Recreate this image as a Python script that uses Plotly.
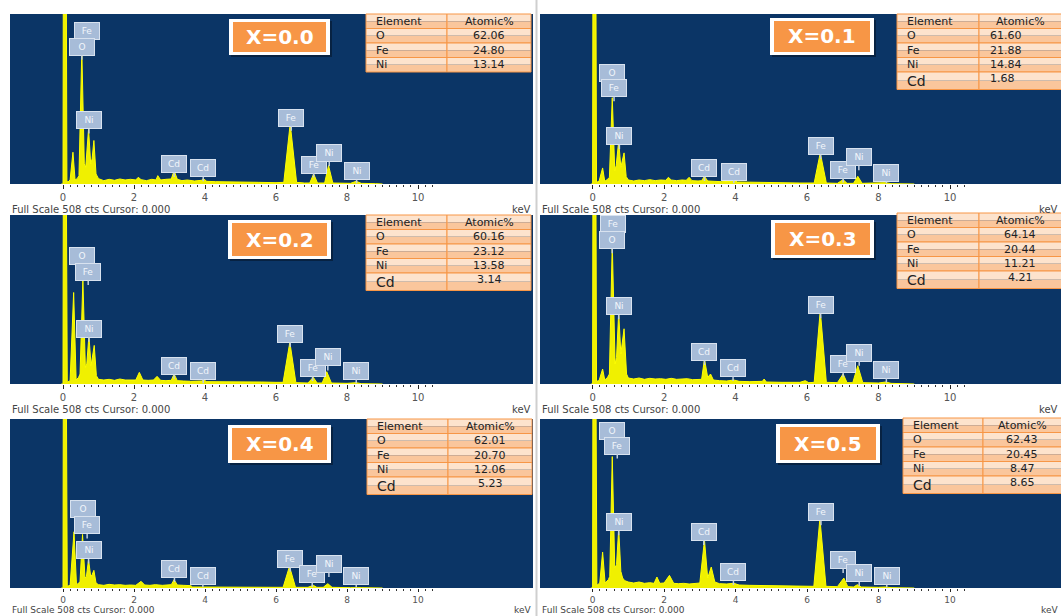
import plotly.graph_objects as go

W, H = 1061, 616

# ---------------------------------------------------------------------------
# Data: EDX spectra (energy keV, counts) and atomic composition per sample
# ---------------------------------------------------------------------------
SAMPLES = ["X=0.0", "X=0.1", "X=0.2", "X=0.3", "X=0.4", "X=0.5"]

SPEC_X00 = [(-0.05, 0), (0.0, 0), (0.01, 700), (0.09, 700), (0.11, 8), (0.14, 6), (0.2, 12), (0.28, 95),
            (0.34, 12), (0.4, 16), (0.45, 25), (0.53, 400), (0.6, 60), (0.64, 50), (0.72, 165), (0.78, 60),
            (0.82, 75), (0.87, 130), (0.93, 30), (1.0, 16), (1.15, 10), (1.3, 14), (1.45, 11), (1.6, 15),
            (1.75, 12), (1.9, 14), (2.05, 12), (2.12, 20), (2.2, 13), (2.35, 10), (2.5, 14), (2.62, 12),
            (2.67, 25), (2.75, 12), (2.9, 14), (3.05, 15), (3.13, 40), (3.22, 14), (3.35, 10), (3.5, 12),
            (3.7, 9), (3.9, 11), (3.95, 16), (4.05, 8), (4.3, 7), (4.6, 6), (5.0, 5), (5.5, 5), (6.0, 4),
            (6.22, 5), (6.4, 180), (6.58, 5), (6.8, 3), (6.95, 3), (7.06, 30), (7.17, 3), (7.37, 3),
            (7.48, 55), (7.6, 3), (7.8, 3), (8.1, 2), (8.26, 8), (8.4, 2), (8.8, 1), (9.0, 0)]

SPEC_X01 = [(-0.05, 0), (0.0, 0), (0.01, 700), (0.09, 700), (0.11, 5), (0.18, 8), (0.28, 48), (0.34, 8),
            (0.42, 14), (0.47, 20), (0.55, 258), (0.62, 40), (0.66, 55), (0.73, 128), (0.79, 50),
            (0.83, 70), (0.88, 93), (0.94, 22), (1.0, 12), (1.15, 9), (1.3, 12), (1.45, 10), (1.6, 13),
            (1.75, 10), (1.9, 12), (2.05, 11), (2.12, 20), (2.2, 12), (2.35, 10), (2.5, 12), (2.62, 11),
            (2.7, 20), (2.78, 10), (2.95, 9), (3.05, 10), (3.13, 23), (3.22, 9), (3.4, 8), (3.6, 7),
            (3.9, 8), (3.95, 12), (4.05, 6), (4.4, 5), (4.8, 4), (5.3, 4), (5.8, 3), (6.2, 3), (6.37, 93),
            (6.54, 3), (6.85, 2), (7.01, 13), (7.12, 2), (7.3, 2), (7.42, 23), (7.54, 2), (8.0, 2),
            (8.2, 4), (8.35, 1), (9.0, 0)]

SPEC_X02 = [(-0.05, 0), (0.0, 0), (0.01, 700), (0.09, 700), (0.12, 5), (0.2, 10), (0.3, 275), (0.37, 12),
            (0.44, 20), (0.48, 30), (0.56, 312), (0.63, 50), (0.67, 60), (0.73, 146), (0.79, 55),
            (0.83, 80), (0.88, 116), (0.94, 25), (1.0, 14), (1.15, 12), (1.3, 14), (1.45, 11), (1.6, 15),
            (1.75, 12), (1.9, 13), (2.05, 12), (2.15, 35), (2.25, 12), (2.4, 11), (2.55, 12), (2.65, 23),
            (2.75, 11), (2.9, 10), (3.05, 11), (3.13, 30), (3.22, 10), (3.4, 9), (3.6, 8), (3.9, 9),
            (3.95, 13), (4.05, 7), (4.4, 7), (4.8, 8), (5.2, 7), (5.6, 6), (6.0, 5), (6.2, 5), (6.39, 126),
            (6.56, 4), (6.9, 3), (7.05, 20), (7.16, 3), (7.3, 3), (7.43, 37), (7.56, 3), (8.0, 2),
            (8.26, 4), (8.4, 1), (9.0, 0)]

SPEC_X03 = [(-0.05, 0), (0.0, 0), (0.01, 700), (0.09, 700), (0.11, 8), (0.18, 10), (0.28, 45), (0.34, 12),
            (0.42, 20), (0.47, 30), (0.55, 422), (0.63, 60), (0.67, 80), (0.73, 216), (0.79, 90),
            (0.83, 120), (0.88, 166), (0.95, 30), (1.0, 18), (1.15, 15), (1.3, 18), (1.45, 14), (1.6, 17),
            (1.75, 15), (1.9, 16), (2.05, 14), (2.2, 17), (2.35, 14), (2.5, 15), (2.65, 16), (2.8, 13),
            (2.95, 13), (3.05, 14), (3.13, 75), (3.22, 20), (3.3, 30), (3.38, 12), (3.55, 10), (3.75, 9),
            (3.95, 12), (4.1, 8), (4.4, 7), (4.75, 8), (4.8, 15), (4.86, 6), (5.3, 5), (5.8, 5),
            (5.95, 10), (6.05, 4), (6.2, 5), (6.37, 221), (6.54, 5), (6.85, 4), (7.01, 30), (7.12, 4),
            (7.28, 4), (7.42, 55), (7.56, 4), (8.0, 3), (8.2, 6), (8.35, 2), (9.0, 0)]

SPEC_X04 = [(-0.05, 0), (0.0, 0), (0.01, 700), (0.09, 700), (0.12, 5), (0.2, 8), (0.31, 169), (0.38, 10),
            (0.45, 15), (0.48, 20), (0.55, 161), (0.62, 30), (0.66, 35), (0.72, 85), (0.78, 35),
            (0.82, 40), (0.87, 53), (0.93, 15), (1.0, 10), (1.15, 8), (1.3, 11), (1.45, 9), (1.6, 10),
            (1.75, 8), (1.9, 9), (2.05, 8), (2.2, 20), (2.3, 9), (2.45, 8), (2.6, 10), (2.8, 8), (2.95, 9),
            (3.05, 10), (3.13, 25), (3.22, 9), (3.4, 8), (3.6, 7), (3.65, 3), (4.0, 3), (4.5, 2), (5.0, 2),
            (5.5, 2), (6.0, 2), (6.2, 2), (6.38, 65), (6.55, 2), (6.9, 2), (7.05, 8), (7.15, 2), (7.33, 2),
            (7.46, 13), (7.58, 2), (8.1, 1), (8.26, 2), (8.4, 1), (9.0, 0)]

SPEC_X05 = [(-0.05, 0), (0.0, 0), (0.01, 700), (0.09, 700), (0.12, 8), (0.2, 15), (0.28, 108), (0.35, 15),
            (0.44, 25), (0.48, 35), (0.55, 395), (0.62, 60), (0.67, 70), (0.73, 179), (0.79, 50),
            (0.84, 30), (0.9, 22), (1.0, 18), (1.15, 15), (1.3, 18), (1.45, 14), (1.6, 16), (1.72, 14),
            (1.8, 33), (1.88, 14), (2.0, 15), (2.15, 38), (2.27, 14), (2.4, 13), (2.55, 14), (2.7, 12),
            (2.85, 13), (3.0, 15), (3.13, 144), (3.22, 30), (3.32, 63), (3.42, 18), (3.55, 13), (3.75, 12),
            (3.95, 14), (4.1, 9), (4.4, 8), (4.8, 7), (5.2, 6), (5.6, 5), (6.0, 5), (6.19, 5), (6.36, 209),
            (6.53, 5), (6.85, 4), (7.03, 30), (7.14, 4), (7.3, 3), (7.41, 10), (7.52, 3), (8.0, 2),
            (8.2, 3), (8.35, 1), (9.0, 0)]

SPECTRA = [SPEC_X00, SPEC_X01, SPEC_X02, SPEC_X03, SPEC_X04, SPEC_X05]

# Peak identifications: (element, energy keV, label height in counts)
PEAKS_X00 = [("Fe", 0.68, 458), ("O", 0.53, 410), ("Ni", 0.73, 190), ("Cd", 3.13, 60), ("Cd", 3.95, 47),
             ("Fe", 6.43, 198), ("Fe", 7.06, 58), ("Ni", 7.50, 92), ("Ni", 8.27, 38)]
PEAKS_X01 = [("O", 0.55, 333), ("Fe", 0.60, 286), ("Ni", 0.75, 143), ("Cd", 3.13, 48), ("Cd", 3.95, 36),
             ("Fe", 6.38, 113), ("Fe", 7.01, 43), ("Ni", 7.45, 80), ("Ni", 8.22, 33)]
PEAKS_X02 = [("O", 0.54, 385), ("Fe", 0.71, 337), ("Ni", 0.73, 166), ("Cd", 3.13, 55), ("Cd", 3.95, 40),
             ("Fe", 6.40, 150), ("Fe", 7.03, 48), ("Ni", 7.46, 80), ("Ni", 8.26, 40)]
PEAKS_X03 = [("Fe", 0.57, 480), ("O", 0.55, 432), ("Ni", 0.73, 234), ("Cd", 3.13, 96), ("Cd", 3.93, 48),
             ("Fe", 6.38, 237), ("Fe", 7.01, 59), ("Ni", 7.46, 94), ("Ni", 8.22, 43)]
PEAKS_X04 = [("O", 0.55, 236), ("Fe", 0.68, 188), ("Ni", 0.72, 113), ("Cd", 3.14, 57), ("Cd", 3.94, 37),
             ("Fe", 6.40, 88), ("Fe", 7.02, 42), ("Ni", 7.49, 72), ("Ni", 8.26, 35)]
PEAKS_X05 = [("O", 0.54, 473), ("Fe", 0.69, 428), ("Ni", 0.73, 198), ("Cd", 3.11, 168), ("Cd", 3.94, 48),
             ("Fe", 6.39, 228), ("Fe", 7.01, 84), ("Ni", 7.46, 44), ("Ni", 8.23, 36)]
PEAKS = [PEAKS_X00, PEAKS_X01, PEAKS_X02, PEAKS_X03, PEAKS_X04, PEAKS_X05]

ELEMENTS = ["O", "Fe", "Ni", "Cd"]
ATOMIC_X00 = [62.06, 24.80, 13.14]
ATOMIC_X01 = [61.60, 21.88, 14.84, 1.68]
ATOMIC_X02 = [60.16, 23.12, 13.58, 3.14]
ATOMIC_X03 = [64.14, 20.44, 11.21, 4.21]
ATOMIC_X04 = [62.01, 20.70, 12.06, 5.23]
ATOMIC_X05 = [62.43, 20.45, 8.47, 8.65]
ATOMIC = [ATOMIC_X00, ATOMIC_X01, ATOMIC_X02, ATOMIC_X03, ATOMIC_X04, ATOMIC_X05]

FULL_SCALE = 508
X_TICKS = [0, 1, 2, 3, 4, 5, 6, 7, 8, 9, 10]

# ---------------------------------------------------------------------------
# Layout geometry (pixels)
# ---------------------------------------------------------------------------
COLS = [dict(left=10, right=533, zero=63.0, ppk=35.5),
        dict(left=540, right=1061, zero=592.6, ppk=35.74)]
ROWS = [dict(top=14, bottom=184, foot=209, foot_size=10, tick_size=10, ticklen=4),
        dict(top=215, bottom=384, foot=409, foot_size=10, tick_size=10, ticklen=4),
        dict(top=419, bottom=588, foot=610, foot_size=9, tick_size=9, ticklen=3)]

TABLES = [dict(l=366, c=447, r=531, t=14), dict(l=897, c=979, r=1066, t=14),
          dict(l=366, c=447, r=531, t=215), dict(l=897, c=979, r=1066, t=213),
          dict(l=367, c=448, r=532, t=419), dict(l=903, c=983, r=1066, t=418)]
BADGES = [(229, 19, 330, 55), (770, 18, 874, 55), (228, 220, 331, 259),
          (771, 220, 874, 258), (228, 425, 331, 463), (776, 424, 880, 463)]

BLUE = "#0b3566"
YELLOW = "#ffff00"
ORANGE = "#f79646"
FONT = "DejaVu Sans"


def px(x):
    return x / W


def py(y):
    return 1 - y / H


fig = go.Figure()
shapes = []
annotations = []
layout_axes = {}

minor_vals = [round(0.2 * k, 1) for k in range(0, 53)]

for i, spec in enumerate(SPECTRA):
    col = COLS[i % 2]
    row = ROWS[i // 2]
    xn = "x" if i == 0 else f"x{i + 1}"
    yn = "y" if i == 0 else f"y{i + 1}"
    xkey = "xaxis" if i == 0 else f"xaxis{i + 1}"
    ykey = "yaxis" if i == 0 else f"yaxis{i + 1}"

    x0 = (col["left"] - col["zero"]) / col["ppk"]
    x1 = (col["right"] - col["zero"]) / col["ppk"]
    layout_axes[xkey] = dict(
        domain=[px(col["left"]), min(1.0, px(col["right"]))], range=[x0, x1], anchor=yn,
        showgrid=False, zeroline=False, showline=False, fixedrange=True,
        ticks="outside", ticklen=row["ticklen"], tickwidth=1, tickcolor="#222",
        tickmode="array", tickvals=X_TICKS,
        ticktext=[str(v) if v % 2 == 0 else "" for v in X_TICKS],
        tickfont=dict(family=FONT, size=row["tick_size"], color="#555"),
        minor=dict(tickmode="array", tickvals=minor_vals, ticks="outside",
                   ticklen=2, tickwidth=1, tickcolor="#333"),
    )
    layout_axes[ykey] = dict(domain=[py(row["bottom"]), py(row["top"])], range=[0, FULL_SCALE],
                             anchor=xn, visible=False, fixedrange=True)

    # dark plot background
    shapes.append(dict(type="rect", xref=f"{xn} domain", yref=f"{yn} domain",
                       x0=0, x1=1, y0=0, y1=1, fillcolor=BLUE, line=dict(width=0), layer="below"))

    fig.add_trace(go.Scatter(
        x=[p[0] for p in spec], y=[p[1] for p in spec], mode="lines",
        line=dict(color=YELLOW, width=1), fill="tozeroy", fillcolor="#f0f000",
        xaxis=xn, yaxis=yn, hoverinfo="skip", showlegend=False))

    # element markers above the peaks, each with a short stem
    cpp = FULL_SCALE / (row["bottom"] - row["top"])  # counts per pixel
    for el, e, lab in PEAKS[i]:
        tip = max(lab - 13 * cpp, 2)
        annotations.append(dict(
            xref=xn, yref=yn, x=e, y=tip, ax=0, ay=-(lab - tip) / cpp, showarrow=True,
            arrowhead=0, arrowwidth=1.5, arrowcolor="#c3cfdf", standoff=0,
            text=el, font=dict(family=FONT, size=9, color="#f2f6fb"),
            bgcolor="#a7bcd8", bordercolor="#d8e2ef", borderwidth=1, borderpad=2,
            width=20, height=12))

    # footer line of the spectrum window
    annotations.append(dict(xref="paper", yref="paper", x=px(col["left"]), y=py(row["foot"]),
                            xanchor="left", yanchor="middle", showarrow=False,
                            text="Full Scale 508 cts Cursor: 0.000",
                            font=dict(family=FONT, size=row["foot_size"], color="#444")))
    annotations.append(dict(xref="paper", yref="paper", x=px(min(col["right"], 1060)), y=py(row["foot"]),
                            xanchor="right", yanchor="middle", showarrow=False, text="keV",
                            font=dict(family=FONT, size=row["foot_size"], color="#444")))

    # sample badge
    bx0, by0, bx1, by1 = BADGES[i]
    shapes.append(dict(type="rect", xref="paper", yref="paper", x0=px(bx0 + 2), x1=px(bx1 + 2),
                       y0=py(by1 + 2), y1=py(by0 + 2), fillcolor="rgba(0,0,0,0.35)", line=dict(width=0)))
    shapes.append(dict(type="rect", xref="paper", yref="paper", x0=px(bx0), x1=px(bx1),
                       y0=py(by1), y1=py(by0), fillcolor="#ffffff", line=dict(width=0)))
    shapes.append(dict(type="rect", xref="paper", yref="paper", x0=px(bx0 + 4), x1=px(bx1 - 4),
                       y0=py(by1 - 3), y1=py(by0 + 3), fillcolor=ORANGE, line=dict(width=0)))
    annotations.append(dict(xref="paper", yref="paper", x=px((bx0 + bx1) / 2), y=py((by0 + by1) / 2),
                            xanchor="center", yanchor="middle", showarrow=False, text=f"<b>{SAMPLES[i]}</b>",
                            font=dict(family=FONT, size=20, color="#ffffff")))

    # composition table
    tb = TABLES[i]
    vals = ATOMIC[i]
    labels = ["Element"] + ELEMENTS[:len(vals)]
    cells = ["Atomic%"] + [f"{v:.2f}" for v in vals]
    heights = [14.5, 14.5, 14.5, 14.5, 17.5][:len(labels)]
    y = tb["t"]
    for r, (lab, txt, h) in enumerate(zip(labels, cells, heights)):
        for cx0, cx1 in ((tb["l"], tb["c"]), (tb["c"], tb["r"])):
            shapes.append(dict(type="rect", xref="paper", yref="paper", x0=px(cx0), x1=px(cx1),
                               y0=py(y + h / 2), y1=py(y), fillcolor="#fde3cd", line=dict(width=0)))
            shapes.append(dict(type="rect", xref="paper", yref="paper", x0=px(cx0), x1=px(cx1),
                               y0=py(y + h), y1=py(y + h / 2), fillcolor="#fac69c", line=dict(width=0)))
            shapes.append(dict(type="rect", xref="paper", yref="paper", x0=px(cx0), x1=px(cx1),
                               y0=py(y + h), y1=py(y), fillcolor="rgba(0,0,0,0)",
                               line=dict(color=ORANGE, width=1)))
        big = (lab == "Cd")
        annotations.append(dict(xref="paper", yref="paper", x=px(tb["l"] + 8), y=py(y + h / 2),
                                xanchor="left", yanchor="middle", showarrow=False, text=lab,
                                font=dict(family=FONT, size=14 if big else 11, color="#222")))
        if i == 1 and r > 0:
            annotations.append(dict(xref="paper", yref="paper", x=px(tb["c"] + 9), y=py(y + h / 2 - (2 if big else 0)),
                                    xanchor="left", yanchor="middle", showarrow=False, text=txt,
                                    font=dict(family=FONT, size=11, color="#222")))
        else:
            annotations.append(dict(xref="paper", yref="paper", x=px((tb["c"] + min(tb["r"], 1061)) / 2),
                                    y=py(y + h / 2 - (2 if big else 0)),
                                    xanchor="center", yanchor="middle", showarrow=False, text=txt,
                                    font=dict(family=FONT, size=11, color="#222")))
        y += h

# column separator
shapes.append(dict(type="line", xref="paper", yref="paper", x0=px(536.5), x1=px(536.5), y0=0, y1=1,
                   line=dict(color="#cfcfcf", width=2), layer="below"))

fig.update_layout(
    width=W, height=H, margin=dict(l=0, r=0, t=0, b=0),
    paper_bgcolor="#ffffff", plot_bgcolor="#ffffff",
    shapes=shapes, annotations=annotations, showlegend=False,
    **layout_axes,
)

fig.write_html("out.html")
